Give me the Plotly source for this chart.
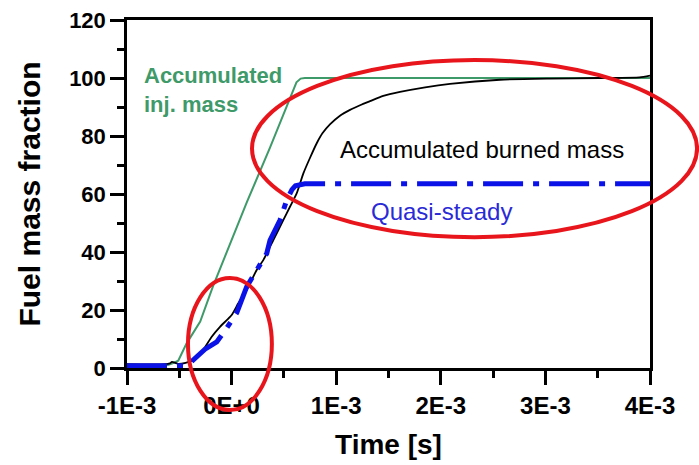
import numpy as np
import plotly.graph_objects as go

# Time samples in milliseconds (converted to seconds below)
inj_t_ms = [-1.0, -0.61, -0.57, -0.51, -0.43, -0.30, -0.18, -0.035, 0.144, 0.367, 0.558, 0.62, 0.66, 0.70, 4.0]
inj_mass = [1.0, 1.0, 1.5, 2.5, 8.5, 16.0, 28.0, 41.0, 57.0, 76.0, 93.0, 98.5, 99.8, 100.0, 100.0]

burn_t_ms = [-1.0, -0.64, -0.59, -0.57, -0.54, -0.51, -0.44, -0.366, -0.273, -0.19, -0.111, 0.001, 0.064,
             0.144, 0.24, 0.303, 0.399, 0.494, 0.558, 0.622, 0.686, 0.75, 0.814, 0.87, 0.94, 1.036, 1.132,
             1.228, 1.323, 1.45, 1.61, 1.85, 2.088, 2.566, 3.044, 3.52, 3.9, 4.0]
burned_mass = [1.3, 1.3, 1.6, 2.1, 1.8, 1.4, 1.8, 2.8, 6.2, 10.8, 14.2, 18.3, 22.3,
               26.9, 33.8, 37.2, 44.1, 51.0, 55.6, 60.2, 67.1, 72.5, 77.5, 81.0, 84.0, 87.0, 89.0,
               90.6, 92.0, 93.8, 95.2, 96.8, 98.0, 99.4, 99.8, 100.0, 100.2, 100.8]

qs_t_ms = [-1.0, -0.656, -0.58, -0.512, -0.45, -0.398, -0.369, -0.254, -0.142, -0.047, 0.049, 0.144,
           0.24, 0.336, 0.367, 0.463, 0.527, 0.577, 0.61, 0.65, 0.70, 4.0]
quasi_steady = [0.8, 0.8, 0.6, 0.5, 0.8, 1.5, 2.7, 6.5, 9.0, 13.8, 19.0, 28.0,
                34.0, 39.5, 44.0, 51.0, 57.9, 61.5, 62.8, 63.3, 63.5, 63.5]

x_tick_vals_ms = [-1, 0, 1, 2, 3, 4]
x_tick_text = ["-1E-3", "0E+0", "1E-3", "2E-3", "3E-3", "4E-3"]
x_minor_ms = [-0.5, 0.5, 1.5, 2.5, 3.5]

inj_t = np.array(inj_t_ms) * 1e-3
burn_t = np.array(burn_t_ms) * 1e-3
qs_t = np.array(qs_t_ms) * 1e-3

FONT = "Arial, Liberation Sans, sans-serif"
GREEN = "#3f9a6a"
BLUE = "#0a12e8"
RED = "#e8161c"

fig = go.Figure()
fig.add_trace(go.Scatter(x=inj_t, y=inj_mass, mode="lines",
                         line=dict(color=GREEN, width=2), hoverinfo="skip"))
fig.add_trace(go.Scatter(x=burn_t, y=burned_mass, mode="lines", line_shape="spline",
                         line=dict(color="black", width=1.8, smoothing=0.6), hoverinfo="skip"))
fig.add_trace(go.Scatter(x=qs_t, y=quasi_steady, mode="lines",
                         line=dict(color=BLUE, width=5, dash="40px,10px,6px,10px"),
                         hoverinfo="skip"))

fig.add_annotation(x=-0.855e-3, y=96, xref="x", yref="y", text="Accumulated<br>inj. mass",
                   showarrow=False, xanchor="left", yanchor="middle", align="left",
                   font=dict(family=FONT, size=22, color=GREEN, weight="bold"))
fig.add_annotation(x=2.39e-3, y=75.2, xref="x", yref="y", text="Accumulated burned mass",
                   showarrow=False, xanchor="center", yanchor="middle",
                   font=dict(family=FONT, size=24, color="black"))
fig.add_annotation(x=2.01e-3, y=54.1, xref="x", yref="y", text="Quasi-steady",
                   showarrow=False, xanchor="center", yanchor="middle",
                   font=dict(family=FONT, size=24, color="#2a2ad6"))

# Highlight ellipses
fig.add_shape(type="circle", xref="paper", yref="paper",
              x0=0.239, x1=1.090, y0=0.376, y1=0.885,
              line=dict(color=RED, width=4), layer="above")
fig.add_shape(type="circle", xref="paper", yref="paper",
              x0=0.1166, x1=0.277, y0=-0.1207, y1=0.2586,
              line=dict(color=RED, width=4), layer="above")

axis_common = dict(showgrid=False, zeroline=False, showline=True, linecolor="black",
                   linewidth=2.5, mirror=True, ticks="outside", tickcolor="black",
                   tickwidth=2.5, ticklen=14, automargin=False)

fig.update_xaxes(**axis_common, range=[-1e-3, 4e-3],
                 tickvals=np.array(x_tick_vals_ms) * 1e-3, ticktext=x_tick_text,
                 tickfont=dict(family=FONT, size=24, color="black", weight="bold"),
                 minor=dict(tickvals=np.array(x_minor_ms) * 1e-3, ticks="outside",
                            ticklen=7, tickwidth=2.5, tickcolor="black"),
                 title=dict(text="Time [s]", standoff=17,
                            font=dict(family=FONT, size=28, color="black", weight="bold")))
fig.update_yaxes(**axis_common, range=[0, 120], tick0=0, dtick=20,
                 tickfont=dict(family=FONT, size=22, color="black", weight="bold"),
                 minor=dict(dtick=10, ticks="outside", ticklen=7, tickwidth=2.5,
                            tickcolor="black"),
                 title=dict(text="Fuel mass fraction", standoff=20,
                            font=dict(family=FONT, size=30, color="black", weight="bold")))

fig.update_layout(width=699, height=465, margin=dict(l=127, r=49, t=20, b=97),
                  plot_bgcolor="white", paper_bgcolor="white", showlegend=False)

fig.write_html("out.html")
